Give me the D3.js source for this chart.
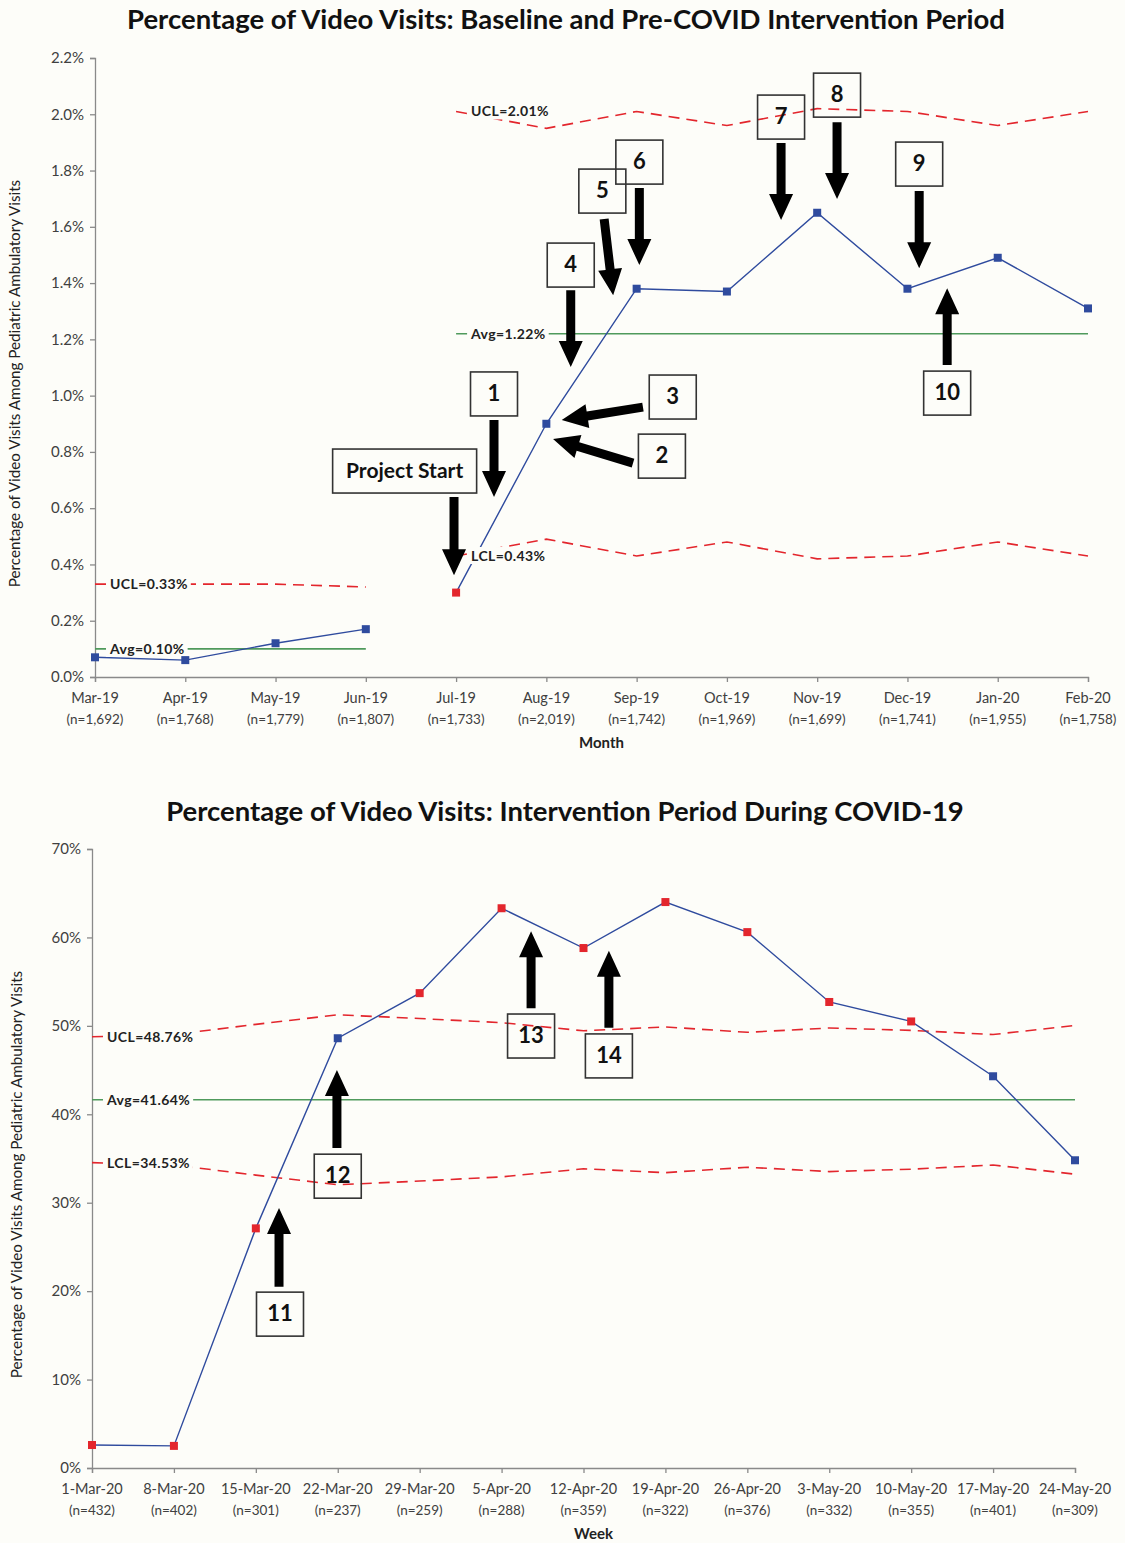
<!DOCTYPE html>
<html>
<head>
<meta charset="utf-8">
<script src="https://cdn.jsdelivr.net/npm/d3@7"></script>
<style>
  body { margin: 0; background: #fdfdf9; }
  svg { display: block; font-family: Lato, "Open Sans", sans-serif; }
</style>
</head>
<body>
<div class="chart"></div>
<script>
// ---- top chart data (monthly) ----
var monthLabels = ["Mar-19","Apr-19","May-19","Jun-19","Jul-19","Aug-19","Sep-19","Oct-19","Nov-19","Dec-19","Jan-20","Feb-20"];
var monthN = ["1,692","1,768","1,779","1,807","1,733","2,019","1,742","1,969","1,699","1,741","1,955","1,758"];
var monthPct = [0.07, 0.06, 0.12, 0.17, 0.30, 0.90, 1.38, 1.37, 1.65, 1.38, 1.49, 1.31];
var monthRed = [0,0,0,0,1,0,0,0,0,0,0,0];
var baseIdx = [0,1,2,3];
var baseUCL = [0.33, 0.33, 0.33, 0.32];
var baseAvg = 0.10;
var preIdx = [4,5,6,7,8,9,10,11];
var preUCL = [2.01, 1.95, 2.01, 1.96, 2.02, 2.01, 1.96, 2.01];
var preLCL = [0.43, 0.49, 0.43, 0.48, 0.42, 0.43, 0.48, 0.43];
var preAvg = 1.22;
var monthTicks = [0.0,0.2,0.4,0.6,0.8,1.0,1.2,1.4,1.6,1.8,2.0,2.2];

// annotations: box centre (x index, y value), arrow from -> tip
var monthNotes = [
  {text:"Project Start", bx:3.43, by:0.732, w:144, ax1:3.977, ay1:0.640, ax2:3.977, ay2:0.362},
  {text:"1", bx:4.42, by:1.006, w:47, ax1:4.42, ay1:0.913, ax2:4.42, ay2:0.640},
  {text:"2", bx:6.28, by:0.785, w:47, ax1:5.96, ay1:0.760, ax2:5.074, ay2:0.846},
  {text:"3", bx:6.40, by:0.995, w:47, ax1:6.07, ay1:0.959, ax2:5.17, ay2:0.913},
  {text:"4", bx:5.27, by:1.464, w:47, ax1:5.27, ay1:1.375, ax2:5.27, ay2:1.102},
  {text:"5", bx:5.62, by:1.727, w:47, ax1:5.64, ay1:1.628, ax2:5.74, ay2:1.357},
  {text:"6", bx:6.03, by:1.830, w:47, ax1:6.03, ay1:1.738, ax2:6.03, ay2:1.464},
  {text:"7", bx:7.60, by:1.990, w:47, ax1:7.60, ay1:1.898, ax2:7.60, ay2:1.624},
  {text:"8", bx:8.22, by:2.068, w:47, ax1:8.22, ay1:1.972, ax2:8.22, ay2:1.699},
  {text:"9", bx:9.13, by:1.823, w:47, ax1:9.13, ay1:1.727, ax2:9.13, ay2:1.453},
  {text:"10", bx:9.44, by:1.009, w:47, ax1:9.44, ay1:1.109, ax2:9.44, ay2:1.382}
];

// ---- bottom chart data (weekly) ----
var weekLabels = ["1-Mar-20","8-Mar-20","15-Mar-20","22-Mar-20","29-Mar-20","5-Apr-20","12-Apr-20","19-Apr-20","26-Apr-20","3-May-20","10-May-20","17-May-20","24-May-20"];
var weekN = ["432","402","301","237","259","288","359","322","376","332","355","401","309"];
var weekPct = [2.6, 2.5, 27.1, 48.6, 53.7, 63.3, 58.8, 64.0, 60.6, 52.7, 50.5, 44.3, 34.8];
var weekRed = [1,1,1,0,1,1,1,1,1,1,1,0,0];
var weekUCL = [48.76, 49.02, 50.17, 51.25, 50.83, 50.36, 49.44, 49.88, 49.27, 49.76, 49.49, 49.02, 50.05];
var weekLCL = [34.53, 34.26, 33.12, 32.03, 32.45, 32.92, 33.84, 33.40, 34.01, 33.52, 33.79, 34.26, 33.23];
var weekAvg = 41.64;
var weekTicks = [0,10,20,30,40,50,60,70];

var weekNotes = [
  {text:"11", bx:2.295, by:17.4, w:47, ax1:2.283, ay1:20.5, ax2:2.283, ay2:29.4},
  {text:"12", bx:3.00, by:33.0, w:47, ax1:2.99, ay1:36.2, ax2:2.99, ay2:45.0},
  {text:"13", bx:5.36, by:48.85, w:47, ax1:5.36, ay1:52.0, ax2:5.36, ay2:60.7},
  {text:"14", bx:6.31, by:46.6, w:47, ax1:6.31, ay1:49.8, ax2:6.31, ay2:58.5}
];

var bg = "#fdfdf9";
var blue = "#2f4b9e";
var red = "#e3262d";
var green = "#4f9a5c";

var svg = d3.select(".chart").append("svg")
  .attr("width", 1125)
  .attr("height", 1543);

svg.append("rect").attr("width",1125).attr("height",1543).attr("fill",bg);

function drawChart(c) {
  var x = d3.scaleLinear().domain([0, c.labels.length - 1]).range([c.left, c.right]);
  var y = d3.scaleLinear().domain([0, c.ymax]).range([c.bottom, c.top]);
  var g = svg.append("g");

  // title
  g.append("text")
    .attr("x", c.titleX).attr("y", c.titleY)
    .attr("text-anchor", "middle")
    .attr("font-size", 27.5).attr("font-weight", "bold").attr("fill", "#111")
    .text(c.title);

  // axes
  var yAxis = g.append("g")
    .attr("transform", `translate(${c.left},0)`)
    .call(d3.axisLeft(y).tickValues(c.ticks).tickSize(5).tickFormat(c.fmt));
  var xAxis = g.append("g")
    .attr("transform", `translate(0,${c.bottom})`)
    .call(d3.axisBottom(x).tickValues(d3.range(c.labels.length)).tickSize(5).tickFormat(""));
  [yAxis, xAxis].forEach(function(a){
    a.select(".domain").attr("stroke", "#8a8a8a").attr("stroke-width", 1.3);
    a.selectAll(".tick line").attr("stroke", "#8a8a8a").attr("stroke-width", 1.3);
  });
  yAxis.selectAll(".tick text")
    .attr("font-size", 15).attr("fill", "#404040").attr("x", -11)
    .attr("font-family", "Lato, sans-serif");

  // x labels, two lines
  var xl = g.append("g").selectAll("text")
    .data(c.labels).enter().append("text")
    .attr("text-anchor", "middle")
    .attr("font-size", 14.5).attr("fill", "#404040");
  xl.append("tspan").attr("x", (d,i) => x(i)).attr("y", c.bottom + 26).text(d => d);
  xl.append("tspan").attr("x", (d,i) => x(i)).attr("y", c.bottom + 47)
    .attr("font-size", 13.5).text((d,i) => "(n=" + c.ns[i] + ")");

  // axis titles
  g.append("text")
    .attr("x", (c.left + c.right) / 2 + 10).attr("y", c.bottom + 71)
    .attr("text-anchor", "middle").attr("font-size", 15).attr("font-weight", "bold").attr("fill", "#222")
    .text(c.xTitle);
  g.append("text")
    .attr("transform", `translate(${c.yTitleX},${(c.top + c.bottom) / 2 + 16}) rotate(-90)`)
    .attr("text-anchor", "middle").attr("font-size", 15.2).attr("fill", "#222")
    .text("Percentage of Video Visits Among Pediatric Ambulatory Visits");

  var line = d3.line().x(d => x(d[0])).y(d => y(d[1]));
  var labels = [];

  // control lines per phase
  c.phases.forEach(function(p){
    var ucl = p.idx.map((d,i) => [d, p.ucl[i]]);
    g.append("path").attr("d", line(ucl)).attr("fill", "none")
      .attr("stroke", red).attr("stroke-width", 1.6).attr("stroke-dasharray", "11,7");
    labels.push({x: p.idx[0], v: p.ucl[0], t: "UCL=" + p.ucl[0].toFixed(2) + "%"});
    if (p.lcl) {
      var lcl = p.idx.map((d,i) => [d, p.lcl[i]]);
      g.append("path").attr("d", line(lcl)).attr("fill", "none")
        .attr("stroke", red).attr("stroke-width", 1.6).attr("stroke-dasharray", "11,7");
      labels.push({x: p.idx[0], v: p.lcl[0], t: "LCL=" + p.lcl[0].toFixed(2) + "%"});
    }
    g.append("path").attr("d", line([[p.idx[0], p.avg], [p.idx[p.idx.length - 1], p.avg]]))
      .attr("fill", "none").attr("stroke", green).attr("stroke-width", 1.6);
    labels.push({x: p.idx[0], v: p.avg, t: "Avg=" + p.avg.toFixed(2) + "%"});
  });

  // data line segments
  c.segments.forEach(function(s){
    g.append("path").attr("d", line(s.map(i => [i, c.values[i]])))
      .attr("fill", "none").attr("stroke", blue).attr("stroke-width", 1.4);
  });

  // control limit labels with background
  labels.forEach(function(l){
    var t = g.append("text")
      .attr("x", x(l.x) + 15).attr("y", y(l.v) + 5)
      .attr("font-size", 14).attr("font-weight", "bold").attr("fill", "#222")
      .attr("letter-spacing", 0.4)
      .text(l.t);
    var b = t.node().getBBox();
    g.append("rect")
      .attr("x", b.x - 3).attr("y", b.y).attr("width", b.width + 6).attr("height", b.height)
      .attr("fill", bg);
    t.raise();
  });

  // markers
  g.append("g").selectAll("rect")
    .data(c.values).enter().append("rect")
    .attr("x", (d,i) => x(i) - 4).attr("y", d => y(d) - 4)
    .attr("width", 8).attr("height", 8)
    .attr("fill", (d,i) => c.red[i] ? red : blue);

  // annotation boxes and arrows
  c.notes.forEach(function(n){
    var cx = x(n.bx), cy = y(n.by);
    g.append("rect")
      .attr("x", cx - n.w / 2).attr("y", cy - 22).attr("width", n.w).attr("height", 44)
      .attr("fill", "none").attr("stroke", "#333").attr("stroke-width", 1.6);
    g.append("text")
      .attr("x", cx).attr("y", cy + 7)
      .attr("text-anchor", "middle").attr("font-size", n.w > 60 ? 21 : 22)
      .attr("font-weight", "bold").attr("fill", "#111")
      .text(n.text);

    var x1 = x(n.ax1), y1 = y(n.ay1), x2 = x(n.ax2), y2 = y(n.ay2);
    var len = Math.hypot(x2 - x1, y2 - y1);
    var ux = (x2 - x1) / len, uy = (y2 - y1) / len;
    var px = -uy, py = ux;
    var sw = 4.5, hw = 12, hl = 26;
    var bx = x2 - ux * hl, by = y2 - uy * hl;
    var pts = [
      [x1 + px * sw, y1 + py * sw],
      [bx + px * sw, by + py * sw],
      [bx + px * hw, by + py * hw],
      [x2, y2],
      [bx - px * hw, by - py * hw],
      [bx - px * sw, by - py * sw],
      [x1 - px * sw, y1 - py * sw]
    ];
    g.append("polygon").attr("points", pts.map(p => p.join(",")).join(" ")).attr("fill", "#000");
  });
}

drawChart({
  title: "Percentage of Video Visits: Baseline and Pre-COVID Intervention Period",
  titleX: 566, titleY: 29,
  labels: monthLabels, ns: monthN, values: monthPct, red: monthRed,
  left: 95, right: 1088, top: 58, bottom: 677, ymax: 2.2,
  ticks: monthTicks, fmt: d => d.toFixed(1) + "%",
  xTitle: "Month", yTitleX: 20,
  segments: [baseIdx, preIdx],
  phases: [
    {idx: baseIdx, ucl: baseUCL, avg: baseAvg},
    {idx: preIdx, ucl: preUCL, lcl: preLCL, avg: preAvg}
  ],
  notes: monthNotes
});

drawChart({
  title: "Percentage of Video Visits: Intervention Period During COVID-19",
  titleX: 565, titleY: 821,
  labels: weekLabels, ns: weekN, values: weekPct, red: weekRed,
  left: 92, right: 1075, top: 849, bottom: 1468, ymax: 70,
  ticks: weekTicks, fmt: d => d + "%",
  xTitle: "Week", yTitleX: 22,
  segments: [d3.range(weekLabels.length)],
  phases: [
    {idx: d3.range(weekLabels.length), ucl: weekUCL, lcl: weekLCL, avg: weekAvg}
  ],
  notes: weekNotes
});
</script>
</body>
</html>
